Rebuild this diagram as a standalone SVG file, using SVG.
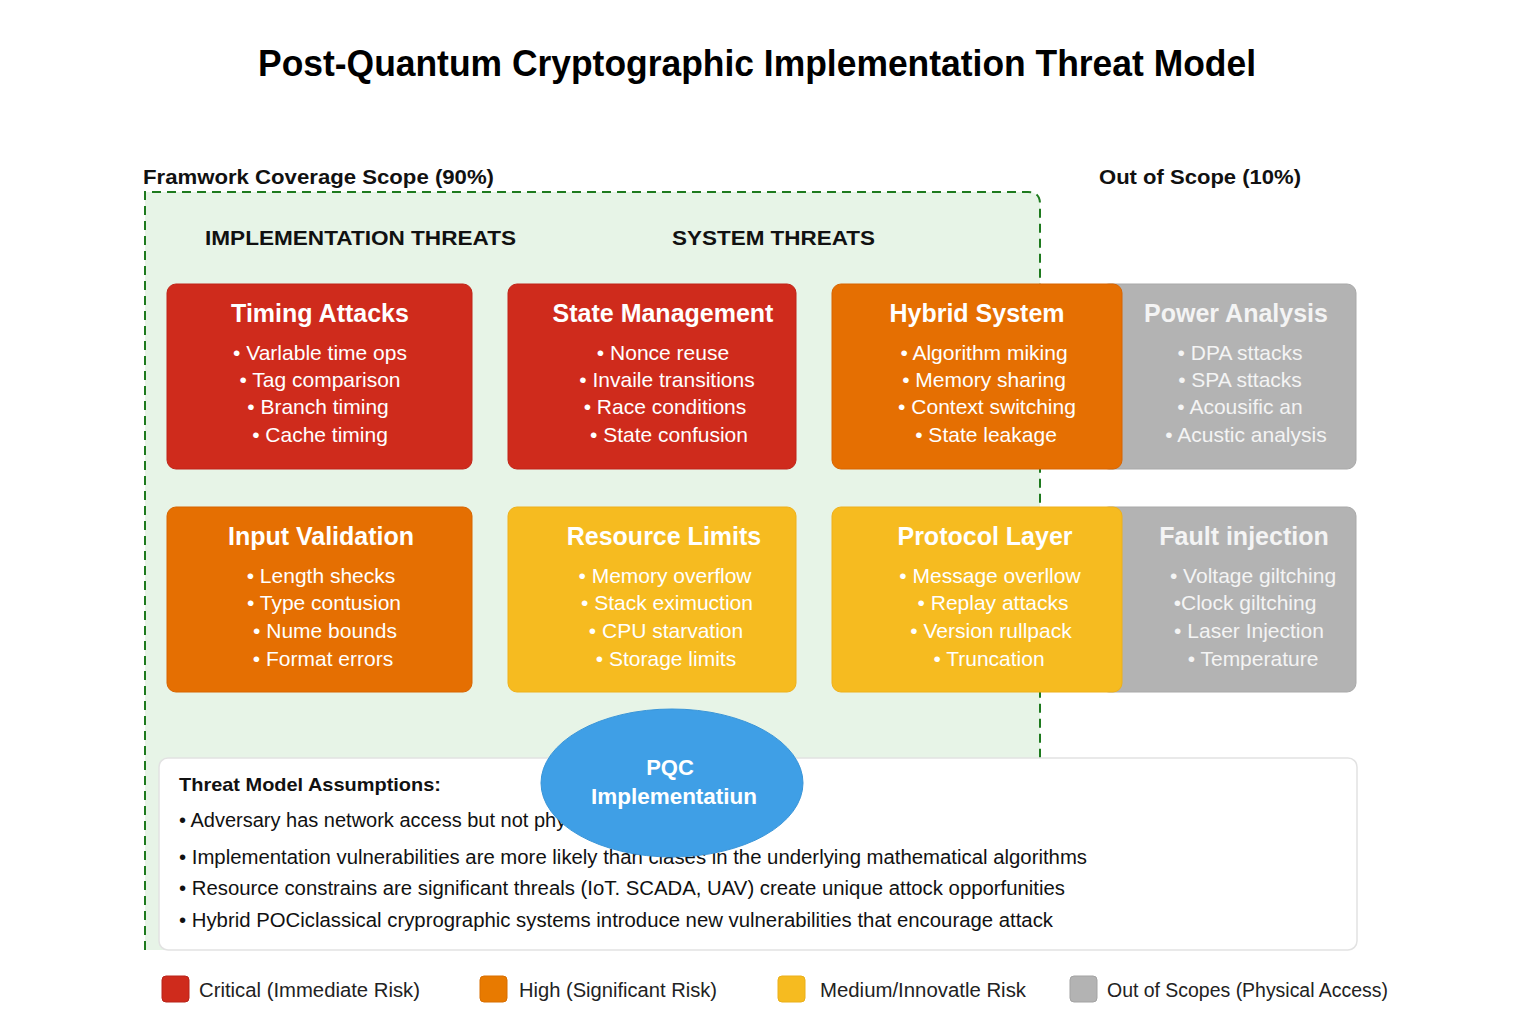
<svg xmlns="http://www.w3.org/2000/svg" width="1536" height="1024" viewBox="0 0 1536 1024">
<defs>
<style>
text{font-family:"Liberation Sans",Arial,sans-serif;}
.title{font-size:36px;font-weight:bold;fill:#000;}
.scope{font-size:21px;font-weight:bold;fill:#111;}
.sec{font-size:21px;font-weight:bold;fill:#111;}
.ct{font-size:25px;font-weight:bold;fill:#fff;text-anchor:middle;}
.cb{font-size:21px;fill:#fff;text-anchor:middle;}
.gt{fill:#f4f4f4;}
.red{fill:#cf2b1c;stroke:#c02418;stroke-width:1;}
.orange{fill:#e56f02;stroke:#d86400;stroke-width:1;}
.yellow{fill:#f6bb20;stroke:#efb01a;stroke-width:1;}
.gray{fill:#b3b3b3;stroke:#a9a9a9;stroke-width:1;}
.asm{font-size:20px;fill:#111;}
.leg{font-size:20px;fill:#222;}
</style>
</defs>
<rect width="1536" height="1024" fill="#fff"/>
<text class="title" x="757" y="76" text-anchor="middle" textLength="998" lengthAdjust="spacingAndGlyphs">Post-Quantum Cryptographic Implementation Threat Model</text>

<g id="scope-in">
<path d="M145,192 H1028 Q1040,192 1040,204 V950 H145 Z" fill="#e7f4e7"/>
<path d="M145,950 V192 H1028 Q1040,192 1040,204 V760" fill="none" stroke="#1e7a1e" stroke-width="2" stroke-dasharray="9,6"/>
<text class="scope" x="143" y="184" textLength="351" lengthAdjust="spacingAndGlyphs">Framwork Coverage Scope (90%)</text>
<text class="sec" x="205" y="245" textLength="311" lengthAdjust="spacingAndGlyphs">IMPLEMENTATION THREATS</text>
<text class="sec" x="672" y="245" textLength="203" lengthAdjust="spacingAndGlyphs">SYSTEM THREATS</text>
</g>
<g id="scope-out">
<text class="scope" x="1099" y="184" textLength="202" lengthAdjust="spacingAndGlyphs">Out of Scope (10%)</text>
</g>

<g id="power-analysis">
<rect class="gray" x="1100" y="284" width="256" height="185" rx="9"/>
<text class="ct gt" x="1236" y="322">Power Analysis</text>
<text class="cb gt" x="1240" y="360">• DPA sttacks</text>
<text class="cb gt" x="1240" y="387">• SPA sttacks</text>
<text class="cb gt" x="1240" y="414">• Acousific an</text>
<text class="cb gt" x="1246" y="442">• Acustic analysis</text>
</g>
<g id="fault-injection">
<rect class="gray" x="1100" y="507" width="256" height="185" rx="9"/>
<text class="ct gt" x="1244" y="545">Fault injection</text>
<text class="cb gt" x="1253" y="583">• Voltage giltching</text>
<text class="cb gt" x="1245" y="610">•Clock giltching</text>
<text class="cb gt" x="1249" y="638">• Laser Injection</text>
<text class="cb gt" x="1253" y="666">• Temperature</text>
</g>

<g id="timing-attacks">
<rect class="red" x="167" y="284" width="305" height="185" rx="9"/>
<text class="ct" x="320" y="322">Timing Attacks</text>
<text class="cb" x="320" y="360">• Varlable time ops</text>
<text class="cb" x="320" y="387">• Tag comparison</text>
<text class="cb" x="318" y="414">• Branch timing</text>
<text class="cb" x="320" y="442">• Cache timing</text>
</g>
<g id="state-management">
<rect class="red" x="508" y="284" width="288" height="185" rx="9"/>
<text class="ct" x="663" y="322">State Management</text>
<text class="cb" x="663" y="360">• Nonce reuse</text>
<text class="cb" x="667" y="387">• Invaile transitions</text>
<text class="cb" x="665" y="414">• Race conditions</text>
<text class="cb" x="669" y="442">• State confusion</text>
</g>
<g id="hybrid-system">
<rect class="orange" x="832" y="284" width="290" height="185" rx="9"/>
<text class="ct" x="977" y="322">Hybrid System</text>
<text class="cb" x="984" y="360">• Algorithm miking</text>
<text class="cb" x="984" y="387">• Memory sharing</text>
<text class="cb" x="987" y="414">• Context switching</text>
<text class="cb" x="986" y="442">• State leakage</text>
</g>
<g id="input-validation">
<rect class="orange" x="167" y="507" width="305" height="185" rx="9"/>
<text class="ct" x="321" y="545">Input Validation</text>
<text class="cb" x="321" y="583">• Length shecks</text>
<text class="cb" x="324" y="610">• Type contusion</text>
<text class="cb" x="325" y="638">• Nume bounds</text>
<text class="cb" x="323" y="666">• Format errors</text>
</g>
<g id="resource-limits">
<rect class="yellow" x="508" y="507" width="288" height="185" rx="9"/>
<text class="ct" x="664" y="545">Resource Limits</text>
<text class="cb" x="665" y="583">• Memory overflow</text>
<text class="cb" x="667" y="610">• Stack eximuction</text>
<text class="cb" x="666" y="638">• CPU starvation</text>
<text class="cb" x="666" y="666">• Storage limits</text>
</g>
<g id="protocol-layer">
<rect class="yellow" x="832" y="507" width="290" height="185" rx="9"/>
<text class="ct" x="985" y="545">Protocol Layer</text>
<text class="cb" x="990" y="583">• Message overllow</text>
<text class="cb" x="993" y="610">• Replay attacks</text>
<text class="cb" x="991" y="638">• Version rullpack</text>
<text class="cb" x="989" y="666">• Truncation</text>
</g>

<g id="connectors"></g>

<g id="assumptions">
<rect x="159" y="758" width="1198" height="192" rx="9" fill="#fff" stroke="#e2e2e2" stroke-width="1.5"/>
<text x="179" y="791" font-size="19" font-weight="bold" fill="#111" textLength="262" lengthAdjust="spacingAndGlyphs">Threat Model Assumptions:</text>
<text class="asm" x="179" y="827">• Adversary has network access but not physical access</text>
<text class="asm" x="179" y="864" textLength="908" lengthAdjust="spacingAndGlyphs">• Implementation vulnerabilities are more likely than clases in the underlying mathematical algorithms</text>
<text class="asm" x="179" y="895" textLength="886" lengthAdjust="spacingAndGlyphs">• Resource constrains are significant threals (IoT. SCADA, UAV) create unique attock opporfunities</text>
<text class="asm" x="179" y="927" textLength="874" lengthAdjust="spacingAndGlyphs">• Hybrid POCiclassical cryprographic systems introduce new vulnerabilities that encourage attack</text>
</g>

<g id="pqc-implementation">
<ellipse cx="672" cy="783" rx="131" ry="74" fill="#3f9fe6" stroke="#3a95d8" stroke-width="1"/>
<text x="670" y="775" font-size="22" font-weight="bold" fill="#fff" text-anchor="middle">PQC</text>
<text x="674" y="804" font-size="22" font-weight="bold" fill="#fff" text-anchor="middle" textLength="166" lengthAdjust="spacingAndGlyphs">Implementatiun</text>
</g>

<g id="legend">
<rect x="162" y="976" width="27" height="26" rx="4" fill="#cf2b1c" stroke="#b8241a"/>
<text class="leg" x="199" y="997" textLength="221" lengthAdjust="spacingAndGlyphs">Critical (Immediate Risk)</text>
<rect x="480" y="976" width="27" height="26" rx="4" fill="#e87a00" stroke="#d86e00"/>
<text class="leg" x="519" y="997" textLength="198" lengthAdjust="spacingAndGlyphs">High (Significant Risk)</text>
<rect x="778" y="976" width="27" height="26" rx="4" fill="#f6bb20" stroke="#ebb01a"/>
<text class="leg" x="820" y="997" textLength="206" lengthAdjust="spacingAndGlyphs">Medium/Innovatle Risk</text>
<rect x="1070" y="976" width="27" height="26" rx="4" fill="#b3b3b3" stroke="#a3a3a3"/>
<text class="leg" x="1107" y="997" textLength="281" lengthAdjust="spacingAndGlyphs">Out of Scopes (Physical Access)</text>
</g>
</svg>
